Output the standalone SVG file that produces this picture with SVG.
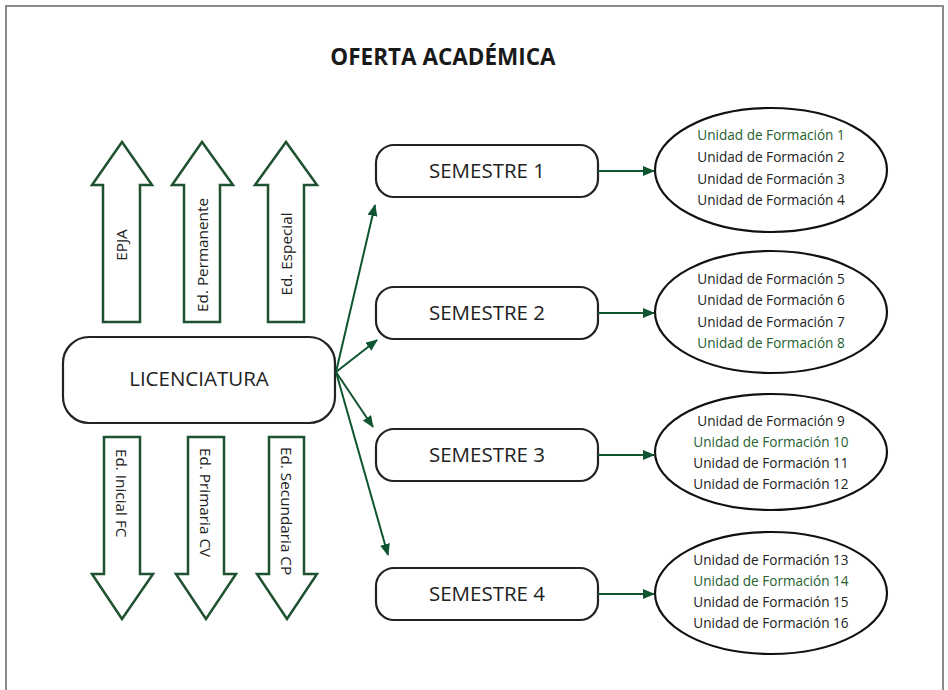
<svg xmlns="http://www.w3.org/2000/svg" width="948" height="690" viewBox="0 0 948 690">
<defs>
<style>
.frame{fill:none;stroke:#8a8a8a;stroke-width:2}
.title{font-family:"Open Sans","Liberation Sans",sans-serif;font-weight:bold;font-size:22.5px;fill:#1a1a1a}
.box{fill:#fff;stroke:#222;stroke-width:2.2}
.big{font-family:"Open Sans","Liberation Sans",sans-serif;font-size:20.5px;fill:#222}
.bar{fill:#fff;stroke:#1f5230;stroke-width:2.5;stroke-linejoin:miter}
.bartxt{font-family:"Open Sans","Liberation Sans",sans-serif;font-size:15.3px;fill:#222}
.ell{fill:#fff;stroke:#111;stroke-width:2.2}
.u{font-family:"Open Sans","Liberation Sans",sans-serif;font-size:13.6px;fill:#222}
.g{fill:#25602f}
.con{stroke:#0f5530;stroke-width:2;fill:none}
</style>
<marker id="ah" viewBox="0 0 12 10" refX="11" refY="5" markerWidth="12" markerHeight="10" markerUnits="userSpaceOnUse" orient="auto">
<path d="M0,0 L12,5 L0,10 Z" fill="#0f5530"/>
</marker>
</defs>
<rect width="948" height="690" fill="#fff"/>
<path class="frame" d="M6,692 L6,6 L943,6 L943,692"/>
<text class="title" x="443" y="65" text-anchor="middle">OFERTA ACADÉMICA</text>

<g id="up-epja">
<path class="bar" d="M103,322 L103,185 L92,185 L122,142 L152,185 L140,185 L140,322 Z"/>
<text class="bartxt" transform="translate(127,245) rotate(-90)" text-anchor="middle">EPJA</text>
</g>
<g id="up-permanente">
<path class="bar" d="M184,322 L184,185 L172,185 L202,142 L233,185 L220,185 L220,322 Z"/>
<text class="bartxt" transform="translate(208,255) rotate(-90)" text-anchor="middle">Ed. Permanente</text>
</g>
<g id="up-especial">
<path class="bar" d="M268,322 L268,185 L255,185 L286,142 L317,185 L304,185 L304,322 Z"/>
<text class="bartxt" transform="translate(292,254) rotate(-90)" text-anchor="middle">Ed. Especial</text>
</g>

<g id="licenciatura">
<rect class="box" x="63" y="337" width="272" height="86" rx="26"/>
<text class="big" x="199" y="386" text-anchor="middle">LICENCIATURA</text>
</g>

<g id="down-inicial">
<path class="bar" d="M104,437 L104,574 L92,574 L122,619 L153,574 L140,574 L140,437 Z"/>
<text class="bartxt" transform="translate(116,449) rotate(90)">Ed. Inicial FC</text>
</g>
<g id="down-primaria">
<path class="bar" d="M188,437 L188,574 L176,574 L206,619 L236,574 L224,574 L224,437 Z"/>
<text class="bartxt" transform="translate(200,448) rotate(90)">Ed. Primaria CV</text>
</g>
<g id="down-secundaria">
<path class="bar" d="M269,437 L269,574 L257,574 L287,619 L317,574 L304,574 L304,437 Z"/>
<text class="bartxt" transform="translate(281,447) rotate(90)">Ed. Secundaria CP</text>
</g>

<g id="sem1">
<rect class="box" x="376" y="145" width="222" height="52" rx="18"/>
<text class="big" x="487" y="178" text-anchor="middle">SEMESTRE 1</text>
</g>
<g id="sem2">
<rect class="box" x="376" y="287" width="222" height="52" rx="18"/>
<text class="big" x="487" y="320" text-anchor="middle">SEMESTRE 2</text>
</g>
<g id="sem3">
<rect class="box" x="376" y="429" width="222" height="52" rx="18"/>
<text class="big" x="487" y="462" text-anchor="middle">SEMESTRE 3</text>
</g>
<g id="sem4">
<rect class="box" x="376" y="568" width="222" height="52" rx="18"/>
<text class="big" x="487" y="601" text-anchor="middle">SEMESTRE 4</text>
</g>

<g id="uf1">
<ellipse class="ell" cx="771" cy="170" rx="116" ry="62"/>
<text class="u" text-anchor="middle"><tspan class="g" x="771" y="140">Unidad de Formación 1</tspan><tspan x="771" y="162">Unidad de Formación 2</tspan><tspan x="771" y="184">Unidad de Formación 3</tspan><tspan x="771" y="205">Unidad de Formación 4</tspan></text>
</g>
<g id="uf2">
<ellipse class="ell" cx="771" cy="312" rx="116" ry="61"/>
<text class="u" text-anchor="middle"><tspan x="771" y="284">Unidad de Formación 5</tspan><tspan x="771" y="305">Unidad de Formación 6</tspan><tspan x="771" y="327">Unidad de Formación 7</tspan><tspan class="g" x="771" y="348">Unidad de Formación 8</tspan></text>
</g>
<g id="uf3">
<ellipse class="ell" cx="771" cy="452" rx="116" ry="58"/>
<text class="u" text-anchor="middle"><tspan x="771" y="426">Unidad de Formación 9</tspan><tspan class="g" x="771" y="447">Unidad de Formación 10</tspan><tspan x="771" y="468">Unidad de Formación 11</tspan><tspan x="771" y="489">Unidad de Formación 12</tspan></text>
</g>
<g id="uf4">
<ellipse class="ell" cx="771" cy="593" rx="116" ry="61"/>
<text class="u" text-anchor="middle"><tspan x="771" y="565">Unidad de Formación 13</tspan><tspan class="g" x="771" y="586">Unidad de Formación 14</tspan><tspan x="771" y="607">Unidad de Formación 15</tspan><tspan x="771" y="628">Unidad de Formación 16</tspan></text>
</g>

<g id="connectors">
<line class="con" x1="336" y1="372" x2="375" y2="205" marker-end="url(#ah)"/>
<line class="con" x1="336" y1="372" x2="377" y2="340" marker-end="url(#ah)"/>
<line class="con" x1="336" y1="372" x2="373" y2="427" marker-end="url(#ah)"/>
<line class="con" x1="336" y1="372" x2="388" y2="555" marker-end="url(#ah)"/>
<line class="con" x1="598" y1="171" x2="654" y2="171" marker-end="url(#ah)"/>
<line class="con" x1="598" y1="313" x2="654" y2="313" marker-end="url(#ah)"/>
<line class="con" x1="598" y1="455" x2="654" y2="455" marker-end="url(#ah)"/>
<line class="con" x1="598" y1="594" x2="654" y2="594" marker-end="url(#ah)"/>
</g>
</svg>
